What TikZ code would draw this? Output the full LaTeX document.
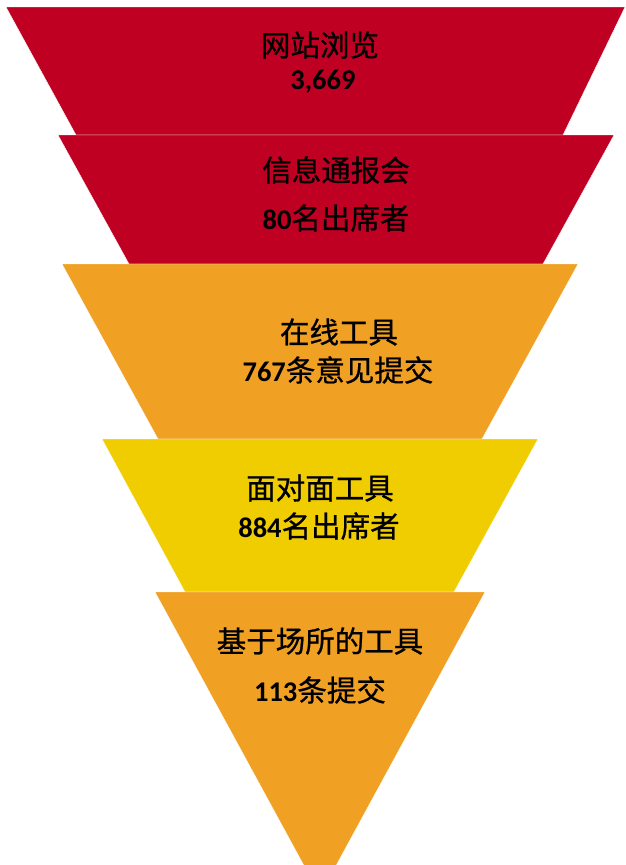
\documentclass[tikz,border=0pt]{standalone}
\usepackage{fontspec}
\setmainfont{Carlito}
\newfontfamily\cjk[FakeBold=0.8]{Noto Sans CJK SC}
\definecolor{fred}{HTML}{C00022}
\definecolor{forange}{HTML}{F0A022}
\definecolor{fyellow}{HTML}{F0CD00}
\tikzset{
  layer/.style={draw=white, line width=0.4pt},
  lbl/.style={font=\fontsize{29.5}{34}\selectfont, text=black, inner sep=0pt, anchor=center},
}
\newcommand{\num}[1]{{\fontsize{28.5}{34}\selectfont\bfseries #1}}
\begin{document}
\begin{tikzpicture}[x=1pt,y=-1pt]
\useasboundingbox (0,0) rectangle (625,865);
\begin{scope}
\clip (0,0) rectangle (625,865);
\fill[fred, layer] (6,7) -- (625,7) -- (563,135) -- (76,135) -- cycle;
\fill[fred, layer] (58,135) -- (614,135) -- (543,264) -- (129,264) -- cycle;
\fill[forange, layer] (62,264) -- (578,264) -- (482,439) -- (158,439) -- cycle;
\fill[fyellow, layer] (102,439) -- (538,439) -- (454,592) -- (185,592) -- cycle;
\fill[forange, layer] (155,592) -- (485,592) -- (320,895) -- cycle;
\end{scope}
\node[lbl] (t1) at (320,45) {\cjk 网站浏览};
\node[lbl] (n1) at (323,82) {\num{3,669}};
\node[lbl] (t2) at (336,170) {\cjk 信息通报会};
\node[lbl] (n2) at (336,218) {\num{80}{\cjk 名出席者}};
\node[lbl] (t3) at (339,332) {\cjk 在线工具};
\node[lbl] (n3) at (338,370) {\num{767}{\cjk 条意见提交}};
\node[lbl] (t4) at (320,488) {\cjk 面对面工具};
\node[lbl] (n4) at (319,526) {\num{884}{\cjk 名出席者}};
\node[lbl] (t5) at (320,641) {\cjk 基于场所的工具};
\node[lbl] (n5) at (320,690) {\num{113}{\cjk 条提交}};
\end{tikzpicture}
\end{document}
